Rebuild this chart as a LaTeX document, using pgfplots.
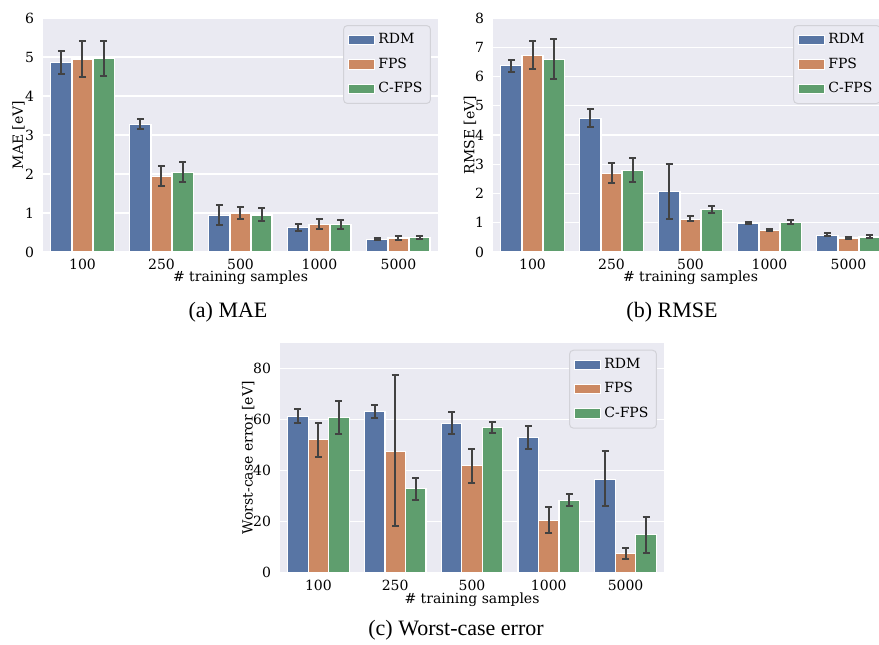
\documentclass[border=0pt]{standalone}
\usepackage{fontspec}
\setmainfont{DejaVu Serif}
\newfontfamily\capfont{Liberation Serif}
\usepackage{pgfplots}
\pgfplotsset{compat=1.18}
\definecolor{cRDM}{HTML}{5875A4}
\definecolor{cFPS}{HTML}{CC8963}
\definecolor{cCFPS}{HTML}{5F9E6E}
\definecolor{bggray}{HTML}{EAEAF2}
\definecolor{errgray}{HTML}{424242}
\definecolor{legedge}{HTML}{D2D2D8}
\pgfplotsset{
 sbstyle/.style={
  scale only axis,
  anchor=south west,
  xmin=-0.5, xmax=4.5, ymin=0,
  axis background/.style={fill=bggray},
  axis line style={draw=none},
  major tick length=0pt,
  ymajorgrids, grid style={white, line width=0.7pt},
  xtick={0,1,2,3,4},
  xticklabels={100,250,500,1000,5000},
  /pgf/number format/assume math mode=true,
  tick label style={font=\fontsize{7}{8}\selectfont},
  yticklabel style={xshift=-1pt},
  label style={font=\fontsize{7}{8}\selectfont},
  xlabel={\# training samples},
  legend style={at={(1,1)}, xshift=-3.5pt, yshift=-3.5pt, anchor=north east,
    fill=bggray, draw=legedge, line width=0.5pt, rounded corners=2pt,
    font=\fontsize{7}{8}\selectfont, inner xsep=2pt, inner ysep=2pt, row sep=1.5pt},
  legend cell align=left,
  legend image code/.code={\draw[#1,draw=white,line width=0.4pt,sharp corners] (0pt,-2.3pt) rectangle (13pt,2.3pt);},
 },
 sbbar/.style={ybar, bar width=0.2667, bar shift=0pt, fill=#1, draw=white, line width=0.6pt,
   error bars/.cd, y dir=both, y explicit,
   error bar style={draw=errgray, line width=1pt},
   error mark options={rotate=90, draw=errgray, line width=1pt, mark size=1.75pt}},
}
\begin{document}
\begin{tikzpicture}
\useasboundingbox (0,0) rectangle (439.5pt,322pt);
\clip (0,0) rectangle (439.5pt,322pt);
% (a) MAE
\begin{axis}[sbstyle, at={(21.5pt,196pt)}, width=197.5pt, height=117pt,
  ymax=6, ytick={0,1,2,3,4,5,6}, ylabel={MAE [eV]},
  ylabel style={at={(axis description cs:-0.062,0.5)}, anchor=center},
  xlabel style={at={(axis description cs:0.5,-0.111)}, anchor=center}]
\addplot[sbbar=cRDM] table[x=x,y=y,y error plus=ep,y error minus=em] {
x y ep em
-0.2667 4.85 0.31 0.29
0.7333 3.26 0.14 0.10
1.7333 0.93 0.27 0.25
2.7333 0.62 0.10 0.07
3.7333 0.33 0.04 0.03
};
\addplot[sbbar=cFPS] table[x=x,y=y,y error plus=ep,y error minus=em] {
x y ep em
0 4.95 0.47 0.45
1 1.93 0.28 0.24
2 0.99 0.16 0.14
3 0.70 0.15 0.12
4 0.36 0.06 0.04
};
\addplot[sbbar=cCFPS] table[x=x,y=y,y error plus=ep,y error minus=em] {
x y ep em
0.2667 4.96 0.46 0.44
1.2667 2.03 0.28 0.24
2.2667 0.95 0.18 0.15
3.2667 0.70 0.11 0.10
4.2667 0.37 0.03 0.03
};
\legend{RDM,FPS,C-FPS}
\end{axis}
% (b) RMSE
\begin{axis}[sbstyle, at={(246.5pt,196pt)}, width=197.5pt, height=117pt,
  ymax=8, ytick={0,1,2,3,4,5,6,7,8}, ylabel={RMSE [eV]},
  ylabel style={at={(axis description cs:-0.058,0.5)}, anchor=center},
  xlabel style={at={(axis description cs:0.5,-0.111)}, anchor=center}]
\addplot[sbbar=cRDM] table[x=x,y=y,y error plus=ep,y error minus=em] {
x y ep em
-0.2667 6.37 0.21 0.20
0.7333 4.57 0.33 0.30
1.7333 2.06 0.96 0.93
2.7333 0.98 0.06 0.03
3.7333 0.57 0.08 0.04
};
\addplot[sbbar=cFPS] table[x=x,y=y,y error plus=ep,y error minus=em] {
x y ep em
0 6.73 0.50 0.47
1 2.69 0.36 0.32
2 1.12 0.11 0.06
3 0.73 0.06 0.02
4 0.48 0.02 0.02
};
\addplot[sbbar=cCFPS] table[x=x,y=y,y error plus=ep,y error minus=em] {
x y ep em
0.2667 6.58 0.70 0.66
1.2667 2.80 0.42 0.40
2.2667 1.44 0.14 0.11
3.2667 1.02 0.08 0.05
4.2667 0.51 0.06 0.03
};
\legend{RDM,FPS,C-FPS}
\end{axis}
% (c) Worst-case error
\begin{axis}[sbstyle, at={(140pt,35.65pt)}, width=192pt, height=115pt,
  ymax=90, ytick={0,20,40,60,80}, ylabel={Worst-case error [eV]},
  ylabel style={at={(axis description cs:-0.083,0.5)}, anchor=center},
  xlabel style={at={(axis description cs:0.5,-0.116)}, anchor=center}]
\addplot[sbbar=cRDM] table[x=x,y=y,y error plus=ep,y error minus=em] {
x y ep em
-0.2667 61.2 2.9 2.5
0.7333 63.1 2.6 2.5
1.7333 58.4 4.3 4.2
2.7333 52.9 4.7 4.6
3.7333 36.6 10.9 10.5
};
\addplot[sbbar=cFPS] table[x=x,y=y,y error plus=ep,y error minus=em] {
x y ep em
0 52.0 6.5 6.6
1 47.5 29.7 29.2
2 41.8 6.8 6.7
3 20.5 5.3 4.8
4 7.4 2.1 1.9
};
\addplot[sbbar=cCFPS] table[x=x,y=y,y error plus=ep,y error minus=em] {
x y ep em
0.2667 60.6 6.6 6.3
1.2667 32.8 4.4 4.3
2.2667 56.7 2.2 2.0
3.2667 28.2 2.6 2.2
4.2667 14.8 7.1 7.0
};
\legend{RDM,FPS,C-FPS}
\end{axis}
\node[font=\capfont\fontsize{11}{13}\selectfont] at (114pt,166pt) {(a) MAE};
\node[font=\capfont\fontsize{11}{13}\selectfont] at (336pt,166pt) {(b) RMSE};
\node[font=\capfont\fontsize{11}{13}\selectfont] at (228pt,7pt) {(c) Worst-case error};
\end{tikzpicture}
\end{document}
